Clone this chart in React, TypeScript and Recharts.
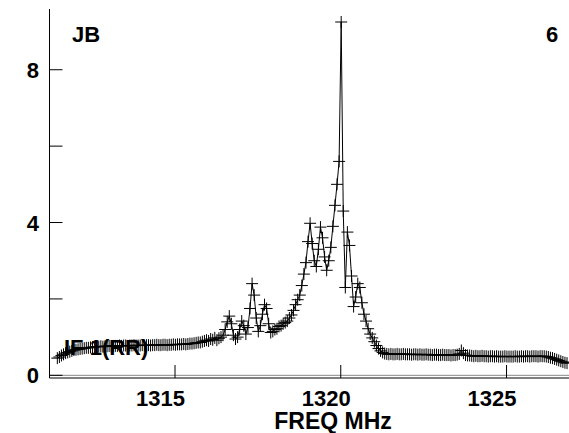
import { LineChart, Line, XAxis, YAxis, ReferenceLine } from "recharts";

// channel grid of the spectrum (MHz)
const START_FREQ = 1311.45;
const CHANNEL_WIDTH = 0.0625;

// flux per channel
const FLUX = [
    0.45, 0.48, 0.52, 0.55, 0.58, 0.6, 0.62, 0.64, 0.66, 0.67,
    0.68, 0.69, 0.7, 0.71, 0.72, 0.72, 0.73, 0.74, 0.74, 0.75,
    0.75, 0.76, 0.75, 0.76, 0.76, 0.77, 0.76, 0.77, 0.77, 0.77,
    0.78, 0.77, 0.78, 0.78, 0.77, 0.78, 0.78, 0.79, 0.78, 0.78,
    0.78, 0.79, 0.78, 0.79, 0.79, 0.78, 0.79, 0.79, 0.8, 0.79,
    0.79, 0.8, 0.8, 0.79, 0.8, 0.8, 0.81, 0.8, 0.81, 0.81,
    0.81, 0.82, 0.81, 0.82, 0.83, 0.83, 0.84, 0.85, 0.86, 0.86,
    0.88, 0.9, 0.92, 0.9, 0.95, 0.93, 0.98, 0.92, 0.97, 1.0,
    1.05, 1.2, 1.4, 1.55, 1.35, 1.05, 0.95, 1.0, 1.2, 1.42,
    1.3, 1.08, 1.25, 1.75, 2.4, 2.1, 1.5, 1.15, 1.3, 1.6,
    1.85, 1.75, 1.35, 1.12, 1.15, 1.2, 1.22, 1.28, 1.3, 1.35,
    1.38, 1.42, 1.5, 1.58, 1.7, 1.85, 1.98, 2.1, 2.35, 2.65,
    2.95, 3.5, 3.98, 3.45, 3.0, 2.85, 3.3, 3.88, 3.6, 3.1,
    2.75, 3.0, 3.35, 3.9, 4.45, 5.0, 5.6, 9.25, 4.3, 2.3,
    3.75, 3.4, 2.6, 1.8, 2.05, 2.4, 2.3, 1.9, 1.6, 1.42,
    1.22, 1.08, 0.98, 0.88, 0.78, 0.7, 0.64, 0.6, 0.57, 0.56,
    0.55, 0.56, 0.55, 0.55, 0.56, 0.55, 0.55, 0.56, 0.55, 0.55,
    0.55, 0.54, 0.55, 0.55, 0.54, 0.55, 0.54, 0.54, 0.55, 0.54,
    0.54, 0.53, 0.54, 0.54, 0.53, 0.53, 0.54, 0.53, 0.53, 0.53,
    0.52, 0.53, 0.53, 0.54, 0.56, 0.65, 0.58, 0.53, 0.52, 0.52,
    0.51, 0.5, 0.51, 0.5, 0.5, 0.51, 0.5, 0.5, 0.49, 0.5,
    0.5, 0.49, 0.5, 0.49, 0.49, 0.49, 0.5, 0.49, 0.49, 0.49,
    0.49, 0.5, 0.49, 0.49, 0.5, 0.49, 0.5, 0.5, 0.49, 0.5,
    0.5, 0.5, 0.49, 0.5, 0.5, 0.5, 0.49, 0.48, 0.46, 0.45,
    0.43, 0.41, 0.39, 0.37, 0.35, 0.33, 0.32,
];

const X_TICKS = [1315, 1320, 1325];
const Y_TICKS = [0, 2, 4, 6, 8];
const Y_LABELS = [0, 4, 8];

const data = FLUX.map((flux, i) => ({ freq: START_FREQ + i * CHANNEL_WIDTH, flux }));

const X_DOMAIN = [1311.214, 1326.915];
const Y_DOMAIN = [-0.07, 9.59];

const FONT = "'Liberation Sans', Arial, sans-serif";
const TICK_LEN = 13;

const textStyle = { fontFamily: FONT, fontWeight: 700, fontSize: 22, fill: "#000" };

const LeftTick = ({ x, y, payload }: any) => (
    <g>
        <line x1={x} x2={x + TICK_LEN} y1={y} y2={y} stroke="#000" />
        {Y_LABELS.includes(payload.value) && (
            <text x={x - 10.5} y={y + 8} textAnchor="end" style={textStyle}>
                {payload.value}
            </text>
        )}
    </g>
);

const RightTick = ({ x, y }: any) => (
    <line x1={x - TICK_LEN} x2={x} y1={y} y2={y} stroke="#000" />
);

const BottomTick = ({ x, y, payload }: any) => (
    <g>
        <line x1={x} x2={x} y1={y} y2={y - TICK_LEN} stroke="#000" />
        <text x={x - 14.5} y={y + 28} textAnchor="middle" style={textStyle}>
            {payload.value}
        </text>
    </g>
);

const TopTick = ({ x, y }: any) => (
    <line x1={x} x2={x} y1={y} y2={y + TICK_LEN} stroke="#000" />
);

// plus-sign marker at every channel
const Cross = ({ cx, cy, index }: any) => (
    <path
        key={`c-${index}`}
        d={`M${cx - 6},${cy}H${cx + 6}M${cx},${cy - 6}V${cy + 6}`}
        stroke="#000"
        strokeWidth={1}
        fill="none"
    />
);

export default function App() {
    return (
        <div style={{ width: 569, height: 433, overflow: "hidden", background: "#fff" }}>
            <style>{"body{margin:0;overflow:hidden}"}</style>
            <LineChart
                width={570}
                height={433}
                data={data}
                margin={{ top: 9, right: 0, bottom: 0, left: 0 }}
            >
                <XAxis
                    dataKey="freq"
                    type="number"
                    domain={X_DOMAIN}
                    allowDataOverflow
                    ticks={X_TICKS}
                    height={55}
                    tickSize={0}
                    tickMargin={0}
                    tickLine={false}
                    axisLine={{ stroke: "#000" }}
                    tick={BottomTick}
                />
                <XAxis
                    xAxisId="top"
                    orientation="top"
                    type="number"
                    domain={X_DOMAIN}
                    allowDataOverflow
                    ticks={X_TICKS}
                    height={0}
                    tickSize={0}
                    tickMargin={0}
                    tickLine={false}
                    axisLine={{ stroke: "#000" }}
                    tick={TopTick}
                />
                <YAxis
                    type="number"
                    domain={Y_DOMAIN}
                    allowDataOverflow
                    ticks={Y_TICKS}
                    width={49.5}
                    tickSize={0}
                    tickMargin={0}
                    tickLine={false}
                    axisLine={{ stroke: "#000" }}
                    tick={LeftTick}
                />
                <YAxis
                    yAxisId="right"
                    orientation="right"
                    type="number"
                    domain={Y_DOMAIN}
                    allowDataOverflow
                    ticks={Y_TICKS}
                    width={0}
                    tickSize={0}
                    tickMargin={0}
                    tickLine={false}
                    axisLine={{ stroke: "#000" }}
                    tick={RightTick}
                />
                <ReferenceLine y={0} stroke="#888" />
                <Line
                    type="linear"
                    dataKey="flux"
                    stroke="#000"
                    strokeWidth={1}
                    dot={Cross}
                    activeDot={false}
                    isAnimationActive={false}
                />
                <text x={72} y={42} style={textStyle}>JB</text>
                <text x={546} y={42} style={textStyle}>6</text>
                <text x={64} y={355} style={textStyle}>IF 1(RR)</text>
                <text x={333} y={429} textAnchor="middle" style={{ ...textStyle, fontSize: 23 }}>
                    FREQ MHz
                </text>
            </LineChart>
        </div>
    );
}
